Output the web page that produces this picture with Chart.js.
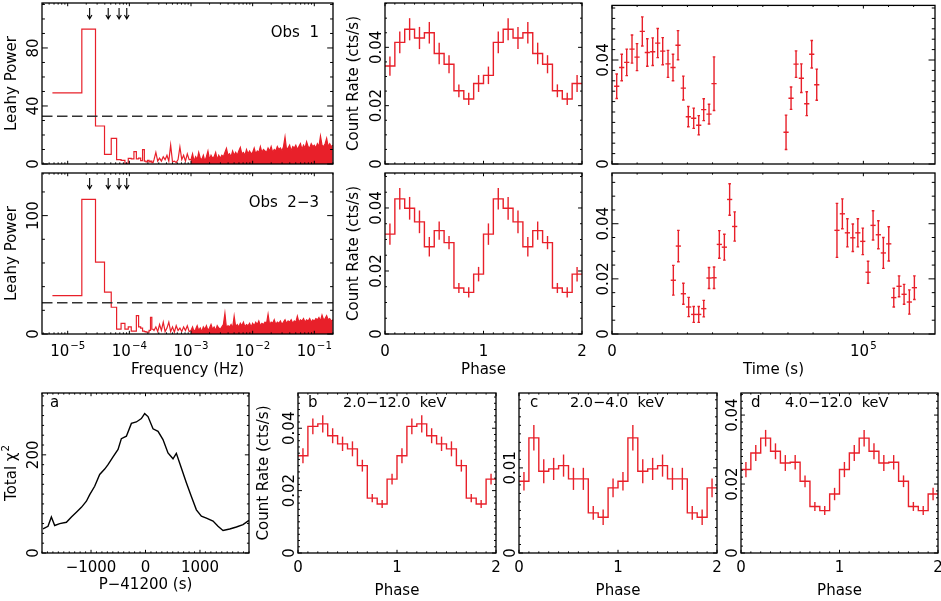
<!DOCTYPE html>
<html>
<head>
<meta charset="utf-8">
<script src="https://cdn.jsdelivr.net/npm/chart.js@4.4.0/dist/chart.umd.min.js"></script>
<style>
  body { margin: 0; background: #fff; }
  #wrap { position: relative; width: 941px; height: 601px; }
  #wrap canvas { position: absolute; left: 0; top: 0; }
</style>
</head>
<body>
<div id="wrap"></div>
<script>
const W = 941, H = 601;
const RED = 'rgb(232,32,42)';
const FONT = '"DejaVu Sans", sans-serif';

// ---------- power spectra (Leahy power) ----------
// lowest Fourier bins, width df = 1.13e-5 Hz
const lowFreq = [1.13e-5, 2.26e-5, 3.39e-5, 4.52e-5, 5.65e-5, 6.78e-5, 7.91e-5, 9.04e-5, 1.017e-4, 1.13e-4,
                 1.243e-4, 1.356e-4, 1.469e-4, 1.582e-4, 1.695e-4, 1.808e-4, 1.921e-4, 2.034e-4, 2.147e-4, 2.26e-4, 2.373e-4];
const lowWidth = 1.13e-5;
const obs1Low = [49, 93, 26.2, 6.7, 17.7, 3.0, 2.5, 0.5, 3.9, 3.5, 8.5, 3.5, 4, 2.3, 9.9, 2, 1.5, 2.5, 1.5, 2, 1];
const obs23Low = [32.5, 113.8, 60.7, 35.3, 22.6, 4.2, 9, 4.2, 6, 2.5, 2.5, 15.5, 6, 5, 2.5, 2, 1.5, 1.5, 3, 14, 4];

// sparse spikes (log10 Hz)
const midLogF = [-3.60, -3.57, -3.54, -3.51, -3.48, -3.45, -3.42, -3.39, -3.36, -3.33,
                 -3.30, -3.27, -3.24, -3.21, -3.18, -3.15, -3.12, -3.09, -3.06, -3.03];
const obs1Mid = [3, 8, 2, 4, 2, 5, 3, 6, 2, 13, 1.5, 2, 1, 3, 11.7, 3, 6, 2, 7, 3];
const obs23Mid = [3, 6, 2, 8, 3, 10, 2, 5, 10, 2, 6, 1.5, 7, 3, 5, 2, 6, 3, 7, 2];

// dense part of the spectrum (log10 Hz)
const hiLogF = [-3.000, -2.975, -2.950, -2.925, -2.900, -2.875, -2.850, -2.825, -2.800, -2.775,
                -2.750, -2.725, -2.700, -2.675, -2.650, -2.625, -2.600, -2.575, -2.550, -2.525,
                -2.500, -2.475, -2.450, -2.425, -2.400, -2.375, -2.350, -2.325, -2.300, -2.275,
                -2.250, -2.225, -2.200, -2.175, -2.150, -2.125, -2.100, -2.075, -2.050, -2.025,
                -2.000, -1.975, -1.950, -1.925, -1.900, -1.875, -1.850, -1.825, -1.800, -1.775,
                -1.750, -1.725, -1.700, -1.675, -1.650, -1.625, -1.600, -1.575, -1.550, -1.525,
                -1.500, -1.475, -1.450, -1.425, -1.400, -1.375, -1.350, -1.325, -1.300, -1.275,
                -1.250, -1.225, -1.200, -1.175, -1.150, -1.125, -1.100, -1.075, -1.050, -1.025,
                -1.000, -0.975, -0.950, -0.925, -0.900, -0.875, -0.850, -0.825, -0.800, -0.775,
                -0.750, -0.725, -0.700];
const obs1Hi = [3, 7, 2, 5, 3, 8, 4, 3, 6, 2,
                5, 9, 3, 6, 4, 5, 8, 3, 6, 4,
                6, 5, 8, 10.8, 6, 7, 5, 9, 6, 8,
                6, 9, 11.5, 7, 8, 6, 10, 7, 9, 7,
                8, 11, 7, 9, 8, 12, 8, 10, 9, 8,
                11, 9, 12, 8, 10, 9, 12, 10, 11, 9,
                12, 18.6, 10, 11, 13, 9, 12, 11, 13, 10,
                12, 14, 10, 13, 11, 15.4, 12, 11, 14, 12,
                13, 11, 14, 12, 19.3, 13, 12, 14, 17.7, 12,
                14, 12, 13];
const obs23Hi = [3, 6, 2, 4, 7, 3, 5, 2, 6, 4,
                 7, 3, 5, 8, 4, 6, 3, 7, 5, 4,
                 6, 8, 17.5, 5, 7, 6, 8, 5, 15, 6,
                 8, 6, 9, 7, 10, 6, 8, 7, 9, 6,
                 9, 7, 10, 8, 11, 7, 9, 8, 10, 9,
                 16.7, 8, 10, 9, 12, 8, 10, 9, 11, 8,
                 10, 12, 9, 11, 10, 12, 9, 11, 10, 15,
                 10, 12, 11, 13, 10, 12, 11, 13, 10, 12,
                 11, 13, 12, 14, 11, 16, 12, 13, 15.5, 12,
                 13, 11, 12];

const harmonicFreq = [2.27e-5, 4.54e-5, 6.81e-5, 9.08e-5];
const obs1Thresh = 33;
const obs23Thresh = 26.5;

// ---------- folded light curves ----------
const phaseBins = [0.05, 0.15, 0.25, 0.35, 0.45, 0.55, 0.65, 0.75, 0.85, 0.95,
                   1.05, 1.15, 1.25, 1.35, 1.45, 1.55, 1.65, 1.75, 1.85, 1.95];
// Obs 1 is plotted as read, both cycles
const obs1Fold = [0.0336, 0.0417, 0.0462, 0.0432, 0.0450, 0.0379, 0.0342, 0.0251, 0.0223, 0.0276,
                  0.0304, 0.0417, 0.0462, 0.0432, 0.0450, 0.0379, 0.0342, 0.0251, 0.0223, 0.0276];
const obs1FoldErr = [0.0033, 0.0037, 0.0038, 0.0038, 0.0037, 0.0037, 0.0031, 0.0022, 0.0021, 0.0029,
                     0.0030, 0.0037, 0.0038, 0.0038, 0.0037, 0.0037, 0.0031, 0.0022, 0.0021, 0.0029];
const obs23Fold = [0.0317, 0.0429, 0.0399, 0.0356, 0.0277, 0.0328, 0.0290, 0.0146, 0.0132, 0.0190];
const obs23FoldErr = [0.0034, 0.0034, 0.0036, 0.0036, 0.0031, 0.0029, 0.0021, 0.0016, 0.0016, 0.0023];
const allFold = [0.0312, 0.0406, 0.0414, 0.0376, 0.0350, 0.0334, 0.0280, 0.0176, 0.0157, 0.0237];
const allFoldErr = [0.0024, 0.0025, 0.0028, 0.0024, 0.0023, 0.0024, 0.0019, 0.0013, 0.0013, 0.0017];
const softFold = [0.00843, 0.01353, 0.00961, 0.00988, 0.01027, 0.00871, 0.00871, 0.00471, 0.00420, 0.00765];
const softFoldErr = [0.0011, 0.0015, 0.0014, 0.0013, 0.0013, 0.0013, 0.0013, 0.0008, 0.0009, 0.0011];
const hardFold = [0.0242, 0.0290, 0.0333, 0.0295, 0.0261, 0.0263, 0.0208, 0.0135, 0.0123, 0.0171];
const hardFoldErr = [0.0022, 0.0023, 0.0024, 0.0023, 0.0023, 0.0021, 0.0017, 0.0013, 0.0013, 0.0018];

// ---------- light curves vs time ----------
const obs1Time = [1870, 3860, 5850, 7960, 9950, 12060, 14050, 16190, 18180, 20170, 22280, 24270, 26260, 28380,
                  30370, 32500, 34500, 36490, 38600, 40590, 69240, 71230, 73220, 75330, 77470, 79460, 81450];
const obs1Cts = [0.0299, 0.0371, 0.0391, 0.0442, 0.0411, 0.0510, 0.0429, 0.0432, 0.0465, 0.0434, 0.0385, 0.0371, 0.0457, 0.0292,
                 0.0182, 0.0176, 0.0149, 0.0209, 0.0192, 0.0309, 0.0122, 0.0253, 0.0384, 0.0330, 0.0232, 0.0422, 0.0305];
const obs1CtsErr = [0.0047, 0.0051, 0.0051, 0.0054, 0.0052, 0.0056, 0.0053, 0.0053, 0.0056, 0.0052, 0.0052, 0.0051, 0.0056, 0.0046,
                    0.0039, 0.0039, 0.0037, 0.0042, 0.0038, 0.0103, 0.0066, 0.0043, 0.0051, 0.0055, 0.0046, 0.0053, 0.0060];
const obs23Time = [24400, 26400, 28400, 30500, 32500, 34500, 36500, 38600, 40600, 42700, 44700, 46800, 48800,
                   89500, 91650, 93650, 95800, 97800, 99760, 101870, 103860, 105970, 107960, 110100, 112100, 114200, 116200, 118300, 120300];
const obs23Cts = [0.0195, 0.0319, 0.0146, 0.0098, 0.0071, 0.0071, 0.0092, 0.0203, 0.0204, 0.0325, 0.0315, 0.0488, 0.0390,
                  0.0376, 0.0436, 0.0367, 0.0349, 0.0367, 0.0336, 0.0224, 0.0394, 0.0360, 0.0294, 0.0327, 0.0132, 0.0173, 0.0144, 0.0116, 0.0168];
const obs23CtsErr = [0.0054, 0.0057, 0.0038, 0.0035, 0.0029, 0.0029, 0.0030, 0.0038, 0.0039, 0.0050, 0.0047, 0.0057, 0.0053,
                     0.0098, 0.0054, 0.0051, 0.0050, 0.0051, 0.0048, 0.0040, 0.0053, 0.0051, 0.0056, 0.0062, 0.0034, 0.0038, 0.0036, 0.0044, 0.0043];

// ---------- total chi^2 vs trial period ----------
const chiP = [-1882, -1790, -1728, -1667, -1575, -1452, -1360, -1269, -1177, -1085, -1024, -933, -841, -749, -688,
              -596, -504, -443, -351, -259, -168, -76, -15, 46, 138, 230, 321, 413, 505, 566,
              658, 750, 842, 934, 1026, 1118, 1240, 1331, 1423, 1546, 1669, 1790, 1900];
const chiVal = [49, 54.5, 73.5, 56, 60, 62.6, 73.5, 83, 93, 105.5, 119, 136, 160, 171, 180,
                196, 211, 233, 238, 264, 267, 274, 284, 278, 253, 248, 231, 204, 192, 203,
                173, 143, 115, 88, 75, 71, 65, 54.5, 46, 49, 53, 58, 66.5];

// ---------- helpers ----------
function font(size) { return size + 'px ' + FONT; }

function stepLin(centers, width, values) {
    const pts = [];
    centers.forEach((c, i) => {
        pts.push({ x: c - width / 2, y: values[i] });
        pts.push({ x: c + width / 2, y: values[i] });
    });
    return pts;
}

function logPoints(logF, values) {
    return logF.map((l, i) => ({ x: Math.pow(10, l), y: values[i] }));
}

function spectrumSets(low, mid, hi) {
    const line = stepLin(lowFreq, lowWidth, low).concat(logPoints(midLogF, mid), logPoints(hiLogF, hi));
    return [
        { data: logPoints(hiLogF, hi), borderWidth: 0, backgroundColor: RED, fill: 'origin', pointRadius: 0 },
        { data: line, borderColor: RED, borderWidth: 1.2, pointRadius: 0, fill: false }
    ];
}

function foldSet(values) {
    const both = values.length === phaseBins.length ? values : values.concat(values);
    return { data: stepLin(phaseBins, 0.1, both), borderColor: RED, borderWidth: 1.4, pointRadius: 0, fill: false };
}

function curveSet(times, rates) {
    return {
        data: times.map((t, i) => ({ x: t, y: rates[i] })),
        showLine: false, pointStyle: 'line', pointRadius: 2.6, borderColor: RED, borderWidth: 1.4
    };
}

function drawSup(ctx, base, sup, x, y, size) {
    ctx.font = font(size);
    const wb = ctx.measureText(base).width;
    ctx.font = font(size * 0.68);
    const ws = ctx.measureText(sup).width;
    const start = x - (wb + ws + 1) / 2;
    ctx.textAlign = 'left';
    ctx.font = font(size);
    ctx.fillText(base, start, y);
    ctx.font = font(size * 0.68);
    ctx.fillText(sup, start + wb + 1, y - size * 0.45);
}

function tickValues(axis) {
    const out = [];
    if (axis.log) {
        for (let d = Math.floor(Math.log10(axis.min)); d <= Math.ceil(Math.log10(axis.max)); d++) {
            for (let m = 1; m <= 9; m++) {
                const v = m * Math.pow(10, d);
                if (v >= axis.min && v <= axis.max) out.push({ v: v, major: m === 1 });
            }
        }
        return out;
    }
    const n0 = Math.ceil(axis.min / axis.minor - 1e-6), n1 = Math.floor(axis.max / axis.minor + 1e-6);
    for (let n = n0; n <= n1; n++) {
        const v = n * axis.minor;
        const r = v / axis.major;
        out.push({ v: v, major: Math.abs(r - Math.round(r)) < 1e-6 });
    }
    return out;
}

function framePlugin(p) {
    return {
        id: 'idlFrame',
        afterDatasetsDraw(chart) {
            const ctx = chart.ctx, a = chart.chartArea;
            const sx = chart.scales.x, sy = chart.scales.y;
            const w = a.right - a.left, h = a.bottom - a.top;
            ctx.save();

            // error bars
            (p.errors || []).forEach(e => {
                ctx.strokeStyle = RED;
                ctx.lineWidth = 1.4;
                e.x.forEach((xv, i) => {
                    const px = sx.getPixelForValue(xv);
                    const yv = e.y[i % e.y.length], ev = e.e[i % e.e.length];
                    const pTop = sy.getPixelForValue(yv + ev), pBot = sy.getPixelForValue(yv - ev);
                    ctx.beginPath();
                    ctx.moveTo(px, pTop); ctx.lineTo(px, pBot);
                    if (e.cap) {
                        ctx.moveTo(px - 1.3, pTop); ctx.lineTo(px + 1.3, pTop);
                        ctx.moveTo(px - 1.3, pBot); ctx.lineTo(px + 1.3, pBot);
                    }
                    ctx.stroke();
                });
            });

            // detection threshold
            if (p.dashY != null) {
                const py = sy.getPixelForValue(p.dashY);
                ctx.strokeStyle = '#333';
                ctx.lineWidth = 1.5;
                ctx.setLineDash([10.5, 4.5]);
                ctx.beginPath(); ctx.moveTo(a.left, py); ctx.lineTo(a.right, py); ctx.stroke();
                ctx.setLineDash([]);
            }

            // harmonic arrows
            (p.arrows || []).forEach(f => {
                const px = sx.getPixelForValue(f);
                ctx.strokeStyle = '#000';
                ctx.lineWidth = 1.1;
                ctx.beginPath();
                ctx.moveTo(px, a.top + 5); ctx.lineTo(px, a.top + 16);
                ctx.moveTo(px - 2.3, a.top + 12); ctx.lineTo(px, a.top + 16); ctx.lineTo(px + 2.3, a.top + 12);
                ctx.stroke();
            });

            // frame and inward ticks on all sides
            ctx.strokeStyle = '#000';
            ctx.lineWidth = 1.3;
            ctx.strokeRect(a.left, a.top, w, h);
            ctx.lineWidth = 1;
            const xl = 0.02 * h, yl = 0.02 * w;
            tickValues(p.x).forEach(t => {
                const px = sx.getPixelForValue(t.v), len = t.major ? xl : xl / 2;
                ctx.beginPath();
                ctx.moveTo(px, a.bottom); ctx.lineTo(px, a.bottom - len);
                ctx.moveTo(px, a.top); ctx.lineTo(px, a.top + len);
                ctx.stroke();
            });
            tickValues(p.y).forEach(t => {
                const py = sy.getPixelForValue(t.v), len = t.major ? yl : yl / 2;
                ctx.beginPath();
                ctx.moveTo(a.left, py); ctx.lineTo(a.left + len, py);
                ctx.moveTo(a.right, py); ctx.lineTo(a.right - len, py);
                ctx.stroke();
            });

            // tick labels and titles
            ctx.fillStyle = '#000';
            ctx.textBaseline = 'alphabetic';
            (p.x.labels || []).forEach(l => {
                const px = sx.getPixelForValue(l.v);
                if (l.sup) {
                    drawSup(ctx, l.t, l.sup, px, a.bottom + p.x.labelDy, 15);
                } else {
                    ctx.font = font(15); ctx.textAlign = 'center';
                    ctx.fillText(l.t, px, a.bottom + p.x.labelDy);
                }
            });
            if (p.x.title) {
                ctx.font = font(15); ctx.textAlign = 'center';
                ctx.fillText(p.x.title, (a.left + a.right) / 2, a.bottom + p.x.titleDy);
            }
            (p.y.labels || []).forEach(l => {
                const py = sy.getPixelForValue(l.v);
                ctx.save();
                ctx.translate(a.left - 4, py);
                ctx.rotate(-Math.PI / 2);
                ctx.font = font(15); ctx.textAlign = 'center';
                ctx.fillText(l.t, 0, 0);
                ctx.restore();
            });
            if (p.y.title) {
                ctx.save();
                ctx.translate(a.left - p.y.titleDx, (a.top + a.bottom) / 2);
                ctx.rotate(-Math.PI / 2);
                if (p.y.titleSup) {
                    drawSup(ctx, p.y.title, p.y.titleSup, 0, 0, 15);
                } else {
                    ctx.font = font(15); ctx.textAlign = 'center';
                    ctx.fillText(p.y.title, 0, 0);
                }
                ctx.restore();
            }
            (p.texts || []).forEach(t => {
                ctx.font = font(t.size || 15);
                ctx.textAlign = t.align || 'left';
                ctx.fillText(t.t, t.x, t.y);
            });
            ctx.restore();
        }
    };
}

const wrap = document.getElementById('wrap');

function makePanel(p) {
    const canvas = document.createElement('canvas');
    canvas.width = W;
    canvas.height = H;
    canvas.style.width = W + 'px';
    canvas.style.height = H + 'px';
    wrap.appendChild(canvas);
    const [x0, y0, x1, y1] = p.box;
    return new Chart(canvas.getContext('2d'), {
        type: 'line',
        data: { datasets: p.datasets },
        options: {
            responsive: false,
            animation: false,
            devicePixelRatio: 1,
            events: [],
            layout: { padding: { left: x0, top: y0, right: W - x1, bottom: H - y1 } },
            plugins: { legend: { display: false }, tooltip: { enabled: false } },
            elements: { line: { tension: 0 } },
            scales: {
                x: { type: p.x.log ? 'logarithmic' : 'linear', min: p.x.min, max: p.x.max, display: false },
                y: { type: 'linear', min: p.y.min, max: p.y.max, display: false }
            }
        },
        plugins: [framePlugin(p)]
    });
}

const freqLabels = [
    { v: 1e-5, t: '10', sup: '−5' }, { v: 1e-4, t: '10', sup: '−4' }, { v: 1e-3, t: '10', sup: '−3' },
    { v: 1e-2, t: '10', sup: '−2' }, { v: 1e-1, t: '10', sup: '−1' }
];
const phaseLabels = [{ v: 0, t: '0' }, { v: 1, t: '1' }, { v: 2, t: '2' }];
const rateLabels = [{ v: 0, t: '0' }, { v: 0.02, t: '0.02' }, { v: 0.04, t: '0.04' }];

// top row: Obs 1
makePanel({
    box: [42, 3, 333, 164],
    x: { log: true, min: 3.83e-6, max: 0.201 },
    y: { min: 0, max: 111, major: 40, minor: 10, labels: [{ v: 0, t: '0' }, { v: 40, t: '40' }, { v: 80, t: '80' }], title: 'Leahy Power', titleDx: 26 },
    datasets: spectrumSets(obs1Low, obs1Mid, obs1Hi),
    dashY: obs1Thresh,
    arrows: harmonicFreq,
    texts: [{ t: 'Obs  1', x: 319, y: 37, align: 'right' }]
});
makePanel({
    box: [385, 3, 582, 164],
    x: { min: 0, max: 2, major: 1, minor: 0.1 },
    y: { min: 0, max: 0.0552, major: 0.02, minor: 0.005, labels: rateLabels, title: 'Count Rate (cts/s)', titleDx: 27 },
    datasets: [foldSet(obs1Fold)],
    errors: [{ x: phaseBins, y: obs1Fold, e: obs1FoldErr }]
});
makePanel({
    box: [612, 3, 935, 164],
    x: { min: 0, max: 128500, major: 1e5, minor: 1e4 },
    y: { min: 0, max: 0.061, major: 0.04, minor: 0.004, labels: [{ v: 0, t: '0' }, { v: 0.04, t: '0.04' }] },
    datasets: [curveSet(obs1Time, obs1Cts)],
    errors: [{ x: obs1Time, y: obs1Cts, e: obs1CtsErr, cap: true }]
});

// middle row: Obs 2-3
makePanel({
    box: [42, 173, 333, 334],
    x: { log: true, min: 3.83e-6, max: 0.201, labels: freqLabels, labelDy: 22, title: 'Frequency (Hz)', titleDy: 40 },
    y: { min: 0, max: 136, major: 100, minor: 20, labels: [{ v: 0, t: '0' }, { v: 100, t: '100' }], title: 'Leahy Power', titleDx: 26 },
    datasets: spectrumSets(obs23Low, obs23Mid, obs23Hi),
    dashY: obs23Thresh,
    arrows: harmonicFreq,
    texts: [{ t: 'Obs  2−3', x: 319, y: 207, align: 'right' }]
});
makePanel({
    box: [385, 173, 582, 334],
    x: { min: 0, max: 2, major: 1, minor: 0.1, labels: phaseLabels, labelDy: 22, title: 'Phase', titleDy: 40 },
    y: { min: 0, max: 0.0511, major: 0.02, minor: 0.005, labels: rateLabels, title: 'Count Rate (cts/s)', titleDx: 27 },
    datasets: [foldSet(obs23Fold)],
    errors: [{ x: phaseBins, y: obs23Fold, e: obs23FoldErr }]
});
makePanel({
    box: [612, 173, 935, 334],
    x: { min: 0, max: 128500, major: 1e5, minor: 1e4, labels: [{ v: 0, t: '0' }, { v: 1e5, t: '10', sup: '5' }], labelDy: 22, title: 'Time (s)', titleDy: 40 },
    y: { min: 0, max: 0.0584, major: 0.02, minor: 0.005, labels: rateLabels },
    datasets: [curveSet(obs23Time, obs23Cts)],
    errors: [{ x: obs23Time, y: obs23Cts, e: obs23CtsErr, cap: true }]
});

// bottom row
makePanel({
    box: [42, 393, 249, 553],
    x: { min: -1900, max: 1900, major: 1000, minor: 100, labels: [{ v: -1000, t: '−1000' }, { v: 0, t: '0' }, { v: 1000, t: '1000' }], labelDy: 19, title: 'P−41200 (s)', titleDy: 36 },
    y: { min: 0, max: 326, major: 200, minor: 20, labels: [{ v: 0, t: '0' }, { v: 200, t: '200' }], title: 'Total χ', titleSup: '2', titleDx: 26 },
    datasets: [{ data: chiP.map((v, i) => ({ x: v, y: chiVal[i] })), borderColor: '#000', borderWidth: 1.4, pointRadius: 0, fill: false }],
    texts: [{ t: 'a', x: 50, y: 407 }]
});
makePanel({
    box: [298, 393, 496, 553],
    x: { min: 0, max: 2, major: 1, minor: 0.1, labels: phaseLabels, labelDy: 19, title: 'Phase', titleDy: 42 },
    y: { min: 0, max: 0.0513, major: 0.02, minor: 0.002, labels: rateLabels, title: 'Count Rate (cts/s)', titleDx: 30 },
    datasets: [foldSet(allFold)],
    errors: [{ x: phaseBins, y: allFold, e: allFoldErr }],
    texts: [{ t: 'b', x: 308, y: 407 }, { t: '2.0−12.0  keV', x: 343, y: 407, size: 14.5 }]
});
makePanel({
    box: [519, 393, 717, 553],
    x: { min: 0, max: 2, major: 1, minor: 0.1, labels: phaseLabels, labelDy: 19, title: 'Phase', titleDy: 42 },
    y: { min: 0, max: 0.0188, major: 0.01, minor: 0.001, labels: [{ v: 0, t: '0' }, { v: 0.01, t: '0.01' }] },
    datasets: [foldSet(softFold)],
    errors: [{ x: phaseBins, y: softFold, e: softFoldErr }],
    texts: [{ t: 'c', x: 530, y: 407 }, { t: '2.0−4.0  keV', x: 570, y: 407, size: 14.5 }]
});
makePanel({
    box: [741, 393, 938, 553],
    x: { min: 0, max: 2, major: 1, minor: 0.1, labels: phaseLabels, labelDy: 19, title: 'Phase', titleDy: 42 },
    y: { min: 0, max: 0.0464, major: 0.02, minor: 0.002, labels: rateLabels },
    datasets: [foldSet(hardFold)],
    errors: [{ x: phaseBins, y: hardFold, e: hardFoldErr }],
    texts: [{ t: 'd', x: 751, y: 407 }, { t: '4.0−12.0  keV', x: 785, y: 407, size: 14.5 }]
});
</script>
</body>
</html>
